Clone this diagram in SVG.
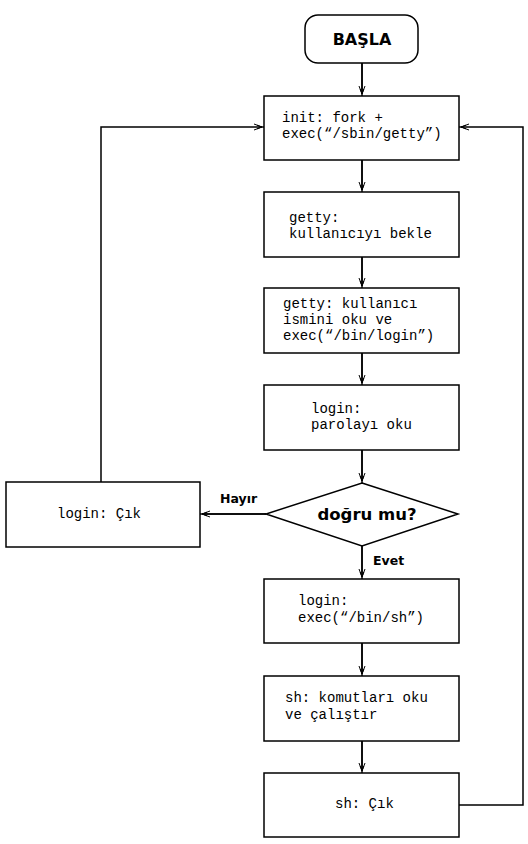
<svg xmlns="http://www.w3.org/2000/svg" width="528" height="844" viewBox="0 0 528 844">
<style>
.box{fill:#fff;stroke:#000;stroke-width:1.5}
.mono{font-family:"Liberation Mono","Courier New",monospace;font-size:14px;fill:#000}
.bold{font-family:"DejaVu Sans",Verdana,sans-serif;font-weight:bold;fill:#000}
.con{fill:none;stroke:#000;stroke-width:1.5}
</style>
<defs>
<marker id="arr" viewBox="0 0 12 8" refX="9" refY="4" markerWidth="12" markerHeight="8" markerUnits="userSpaceOnUse" orient="auto">
<path d="M1,1 L9,4 L1,7 M4,2.2 L9,4 L4,5.8" fill="none" stroke="#000" stroke-width="1"/>
</marker>
</defs>
<rect width="528" height="844" fill="#fff"/>
<g id="connectors">
<path class="con" d="M362,63 V94" marker-end="url(#arr)"/>
<path class="con" d="M362,63 V96"/>
<path class="con" d="M362,160 V190" marker-end="url(#arr)"/>
<path class="con" d="M362,160 V192"/>
<path class="con" d="M362,257 V286" marker-end="url(#arr)"/>
<path class="con" d="M362,257 V288"/>
<path class="con" d="M362,353 V383" marker-end="url(#arr)"/>
<path class="con" d="M362,353 V385"/>
<path class="con" d="M362,450 V481" marker-end="url(#arr)"/>
<path class="con" d="M362,450 V483"/>
<path class="con" d="M362,546 V577" marker-end="url(#arr)"/>
<path class="con" d="M362,546 V579"/>
<path class="con" d="M362,643 V674" marker-end="url(#arr)"/>
<path class="con" d="M362,643 V676"/>
<path class="con" d="M362,741 V771" marker-end="url(#arr)"/>
<path class="con" d="M362,741 V773"/>
<path class="con" d="M266,514 H202" marker-end="url(#arr)"/>
<path class="con" d="M266,514 H200"/>
<path class="con" d="M101,482 V127 H262" marker-end="url(#arr)"/>
<path class="con" d="M262,127 H264"/>
<path class="con" d="M459,805 H523 V127 H461" marker-end="url(#arr)"/>
<path class="con" d="M461,127 H459"/>
<text class="bold" x="220" y="503" font-size="12.5">Hayır</text>
<text class="bold" x="373" y="565" font-size="12.5">Evet</text>
</g>
<g id="basla">
<rect class="box" x="305" y="15" width="113" height="48" rx="13"/>
<text class="bold" x="362" y="45" font-size="16" text-anchor="middle">BAŞLA</text>
</g>
<g id="init">
<rect class="box" x="264" y="96" width="195" height="64"/>
<text class="mono" x="282" y="122">init: fork +</text>
<text class="mono" x="282" y="138">exec(“/sbin/getty”)</text>
</g>
<g id="getty1">
<rect class="box" x="264" y="192" width="195" height="65"/>
<text class="mono" x="289" y="222">getty:</text>
<text class="mono" x="289" y="238">kullanıcıyı bekle</text>
</g>
<g id="getty2">
<rect class="box" x="264" y="288" width="195" height="65"/>
<text class="mono" x="283" y="308">getty: kullanıcı</text>
<text class="mono" x="283" y="324">ismini oku ve</text>
<text class="mono" x="283" y="340">exec(“/bin/login”)</text>
</g>
<g id="login1">
<rect class="box" x="264" y="385" width="195" height="65"/>
<text class="mono" x="311" y="413">login:</text>
<text class="mono" x="311" y="429">parolayı oku</text>
</g>
<g id="decision">
<polygon class="box" points="362,483 458,514 362,546 266,514"/>
<text class="bold" x="367" y="520" font-size="16.5" text-anchor="middle">doğru mu?</text>
</g>
<g id="loginexit">
<rect class="box" x="6" y="482" width="194" height="65"/>
<text class="mono" x="57" y="518">login: Çık</text>
</g>
<g id="login2">
<rect class="box" x="264" y="579" width="195" height="64"/>
<text class="mono" x="298" y="605">login:</text>
<text class="mono" x="298" y="622">exec(“/bin/sh”)</text>
</g>
<g id="sh1">
<rect class="box" x="264" y="676" width="195" height="65"/>
<text class="mono" x="285" y="702">sh: komutları oku</text>
<text class="mono" x="285" y="719">ve çalıştır</text>
</g>
<g id="sh2">
<rect class="box" x="264" y="773" width="195" height="64"/>
<text class="mono" x="335" y="808">sh: Çık</text>
</g>
</svg>
